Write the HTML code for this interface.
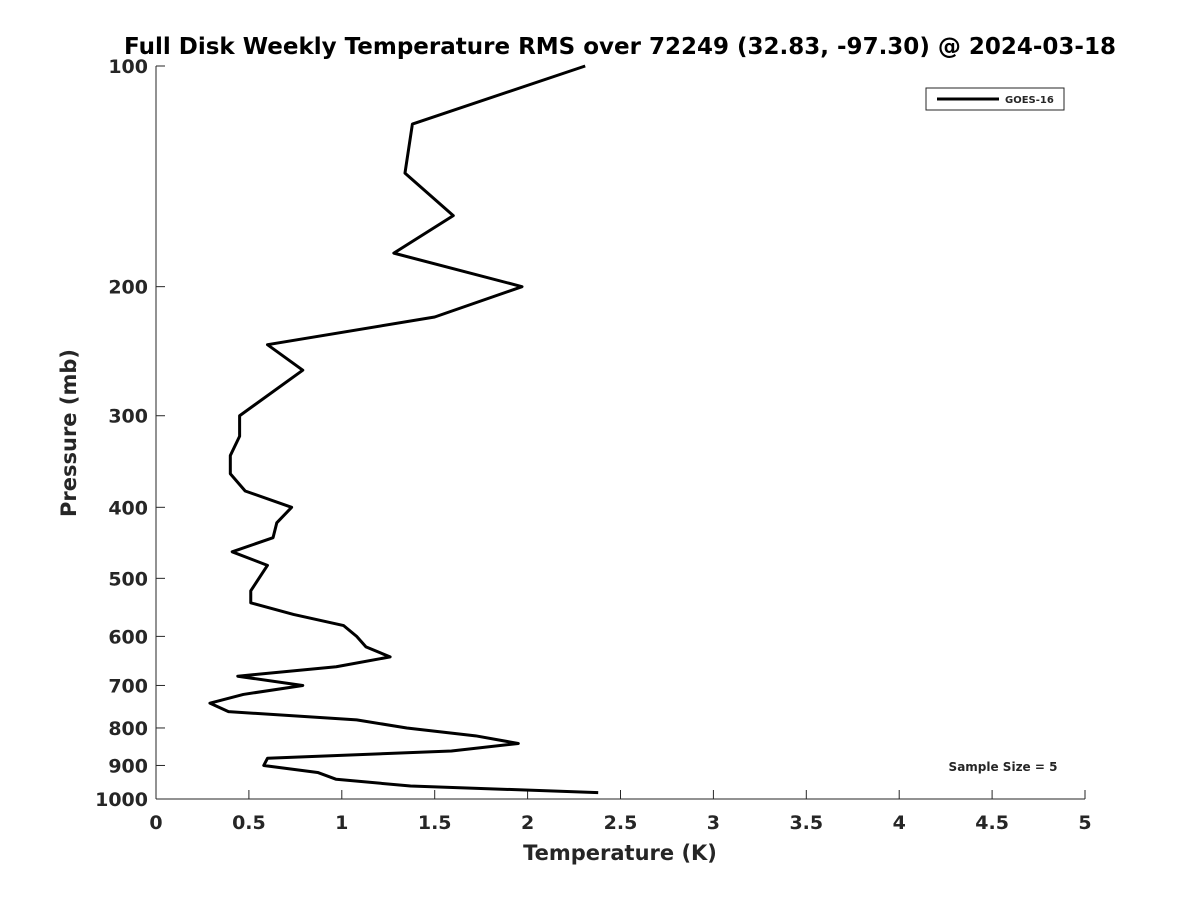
<!DOCTYPE html>
<html><head><meta charset="utf-8"><style>
body{margin:0;background:#fff;font-family:"Liberation Sans","DejaVu Sans",sans-serif}
svg text{font-family:"DejaVu Sans","Liberation Sans",sans-serif;font-weight:bold;fill:#262626}
</style></head><body>
<svg width="1200" height="900">
<rect width="1200" height="900" fill="#fff"/>
<text x="620" y="54" font-size="23" text-anchor="middle" fill="#000" style="fill:#000">Full Disk Weekly Temperature RMS over 72249 (32.83, -97.30) @ 2024-03-18</text>
<g id="axes"></g>
<polyline id="line" fill="none" stroke="#000" stroke-width="3" stroke-linejoin="round"/>
<g>
<rect x="926" y="88" width="138" height="22" fill="#fff" stroke="#262626" stroke-width="1"/>
<line x1="937" y1="99" x2="999" y2="99" stroke="#000" stroke-width="3"/>
<text x="1005" y="103" font-size="10">GOES-16</text>
</g>
<text x="1003" y="771" font-size="12" text-anchor="middle">Sample Size = 5</text>
<text x="620" y="860" font-size="21" text-anchor="middle">Temperature (K)</text>
<text transform="translate(76,433) rotate(-90)" font-size="21" text-anchor="middle">Pressure (mb)</text>
</svg>
<script>
const temps=[2.31,1.38,1.34,1.60,1.28,1.97,1.50,0.60,0.79,0.45,0.45,0.40,0.40,0.48,0.73,0.65,0.63,0.41,0.60,0.51,0.51,0.74,1.01,1.08,1.13,1.26,0.97,0.44,0.79,0.47,0.29,0.39,1.08,1.35,1.72,1.95,1.59,0.60,0.58,0.87,0.97,1.37,2.38];
const pressures=[100,120,140,160,180,200,220,240,260,300,320,340,360,380,400,420,440,460,480,520,540,560,580,600,620,640,660,680,700,720,740,760,780,800,820,840,860,880,900,920,940,960,980];
const xTicks=[0,0.5,1,1.5,2,2.5,3,3.5,4,4.5,5];
const xTickLabels=["0","0.5","1","1.5","2","2.5","3","3.5","4","4.5","5"];
const yTicks=[100,200,300,400,500,600,700,800,900,1000];
const L=156,R=1085,T=66,B=799;
const xs=v=>L+(v-0)/5*(R-L);
const ys=p=>T+(Math.log10(p)-2)*(B-T);
const ns="http://www.w3.org/2000/svg";
const ax=document.getElementById('axes');
function mk(t,a){const e=document.createElementNS(ns,t);for(const k in a)e.setAttribute(k,a[k]);ax.appendChild(e);return e;}
let l=mk('line',{x1:L,y1:B,x2:R,y2:B,stroke:'#262626','stroke-width':1});


l=mk('line',{x1:L,y1:T,x2:L,y2:B,stroke:'#262626','stroke-width':1});


xTicks.forEach((v,i)=>{
 mk('line',{x1:xs(v),y1:B,x2:xs(v),y2:B-9,stroke:'#262626'});
 const t=mk('text',{x:xs(v),y:B+30,'font-size':19,'text-anchor':'middle'});
 t.textContent=xTickLabels[i];
 
 
});
yTicks.forEach(p=>{
 mk('line',{x1:L,y1:ys(p),x2:L+9,y2:ys(p),stroke:'#262626'});
 const t=mk('text',{x:L-8,y:ys(p)+7,'font-size':19,'text-anchor':'end'});
 t.textContent=String(p);
 
 
});
document.getElementById('line').setAttribute('points',temps.map((v,i)=>xs(v)+','+ys(pressures[i])).join(' '));
</script>
</body></html>
